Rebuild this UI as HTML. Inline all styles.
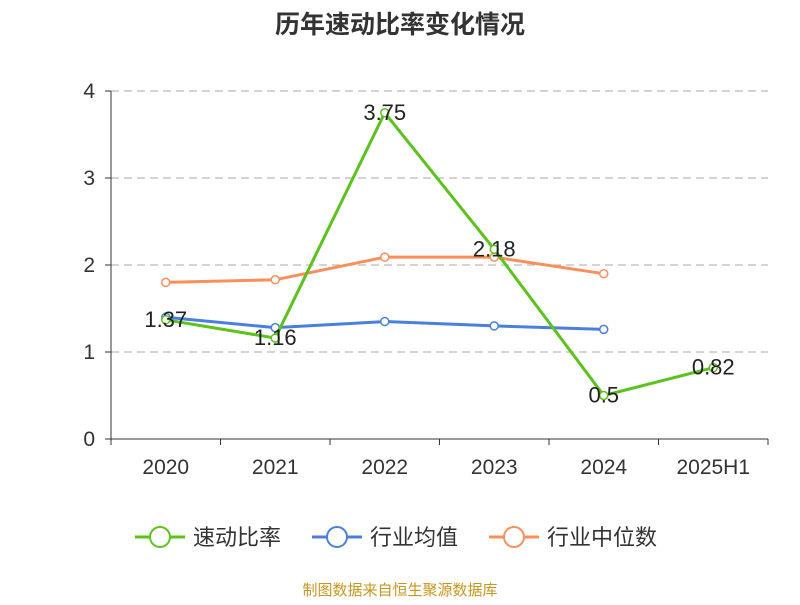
<!DOCTYPE html>
<html><head><meta charset="utf-8"><style>
body{margin:0;background:#fff;font-family:"Liberation Sans","Noto Sans CJK SC",sans-serif}
</style></head><body>
<svg id="chart" width="800" height="600" xmlns="http://www.w3.org/2000/svg" font-family="Liberation Sans, Noto Sans CJK SC, sans-serif">
<text x="400" y="33" text-anchor="middle" font-size="25" font-weight="bold" fill="#333">历年速动比率变化情况</text>
<g id="grid"></g><g id="axes"></g><g id="series"></g>
<g id="legend"></g>
<text x="400" y="595" text-anchor="middle" font-size="15" fill="#c8961e">制图数据来自恒生聚源数据库</text>
</svg>
<script>
const categories=["2020","2021","2022","2023","2024","2025H1"];
const quickRatio=[1.37,1.16,3.75,2.18,0.5,0.82];
const industryAvg=[1.40,1.28,1.35,1.30,1.26,null];
const industryMedian=[1.80,1.83,2.09,2.09,1.90,null];
const yTicks=[0,1,2,3,4];
const NS="http://www.w3.org/2000/svg";
const x0=111,x1=768,y0=439,yTop=91,yMax=4;
const band=(x1-x0)/categories.length;
const xs=i=>x0+band*(i+0.5);
const ys=v=>y0-(v/yMax)*(y0-yTop);
function mk(tag,attrs,parent){const e=document.createElementNS(NS,tag);for(const k in attrs)e.setAttribute(k,attrs[k]);parent.appendChild(e);return e;}
const grid=document.getElementById('grid'),axes=document.getElementById('axes'),series=document.getElementById('series'),legend=document.getElementById('legend');
yTicks.forEach(t=>{
  if(t>0){const l=mk('line',{x1:x0,x2:x1,y1:ys(t),y2:ys(t),stroke:'#bbb','stroke-dasharray':'8,5','stroke-width':1.2},grid);
  
  }
  const tk=mk('line',{x1:x0-6,x2:x0,y1:ys(t),y2:ys(t),stroke:'#333'},axes);
  
  
  const tx=mk('text',{x:x0-16,y:ys(t)+7,'text-anchor':'end','font-size':21,fill:'#333'},axes);tx.textContent=t;
  
  
});
const ya=mk('line',{x1:x0,x2:x0,y1:yTop,y2:y0,stroke:'#333'},axes);


const xa=mk('line',{x1:x0,x2:x1,y1:y0,y2:y0,stroke:'#333'},axes);


for(let i=0;i<=categories.length;i++){const t=mk('line',{x1:x0+band*i,x2:x0+band*i,y1:y0,y2:y0+6,stroke:'#333'},axes);
  
  }
categories.forEach((c,i)=>{const t=mk('text',{x:xs(i),y:474,'text-anchor':'middle','font-size':21,fill:'#333'},axes);t.textContent=c;
  
  });
function drawSeries(vals,color,name,labels){
  const pts=[];vals.forEach((v,i)=>{if(v!=null)pts.push([xs(i),ys(v),v]);});
  const p=mk('polyline',{points:pts.map(p=>p[0]+','+p[1]).join(' '),fill:'none',stroke:color,'stroke-width':3},series);
  
  
  pts.forEach(q=>{const c=mk('circle',{cx:q[0],cy:q[1],r:4,fill:'#fff',stroke:color,'stroke-width':1.5},series);
    
    
    if(labels){const t=mk('text',{x:q[0],y:q[1]+7,'text-anchor':'middle','font-size':22,fill:'#222'},series);t.textContent=q[2];
      
      }
  });
}
drawSeries(industryMedian,'#fb8f5a','industry-median',false);
drawSeries(industryAvg,'#4a7fe0','industry-average',false);
drawSeries(quickRatio,'#5cc21e','quick-ratio',true);
[["速动比率","#5cc21e",135],["行业均值","#4a7fe0",312],["行业中位数","#fb8f5a",489]].forEach(([n,c,x])=>{
  const g=mk('g',{},legend);
  
  
  mk('line',{x1:x,x2:x+50,y1:537,y2:537,stroke:c,'stroke-width':3},g);
  mk('circle',{cx:x+25,cy:537,r:10,fill:'#fff',stroke:c,'stroke-width':2},g);
  const t=mk('text',{x:x+58,y:545,'font-size':22,fill:'#333'},g);t.textContent=n;
});
</script>
</body></html>
